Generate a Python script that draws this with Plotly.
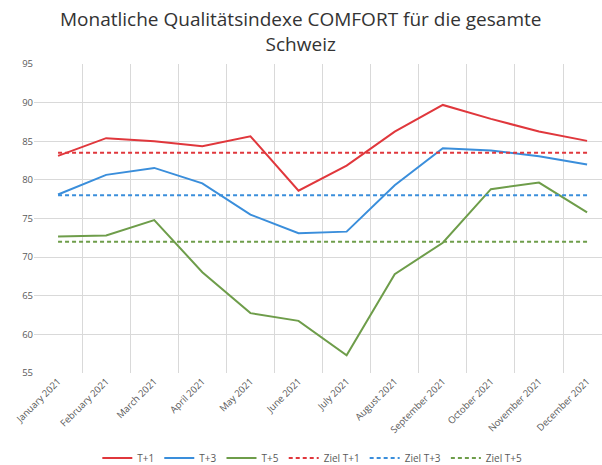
import plotly.graph_objects as go

months = ["January 2021", "February 2021", "March 2021", "April 2021", "May 2021", "June 2021",
          "July 2021", "August 2021", "September 2021", "October 2021", "November 2021", "December 2021"]
t1 = [83.1, 85.4, 85.0, 84.35, 85.65, 78.6, 81.85, 86.25, 89.7, 87.9, 86.25, 85.05]
t3 = [78.1, 80.65, 81.55, 79.55, 75.5, 73.1, 73.3, 79.3, 84.1, 83.8, 83.05, 82.0]
t5 = [72.66, 72.8, 74.8, 68.05, 62.75, 61.75, 57.3, 67.8, 71.86, 78.8, 79.65, 75.8]
ziel_t1 = [83.5] * 12
ziel_t3 = [78.0] * 12
ziel_t5 = [72.0] * 12

title_text = "Monatliche Qualitätsindexe COMFORT für die gesamte<br>Schweiz"

RED = "#E0373C"
BLUE = "#3A8EDB"
GREEN = "#6E9D4A"

fig = go.Figure()
series = [
    ("T+1", t1, RED, "solid"),
    ("T+3", t3, BLUE, "solid"),
    ("T+5", t5, GREEN, "solid"),
    ("Ziel T+1", ziel_t1, RED, "dash"),
    ("Ziel T+3", ziel_t3, BLUE, "dash"),
    ("Ziel T+5", ziel_t5, GREEN, "dash"),
]
for name, vals, col, dash in series:
    fig.add_trace(go.Scatter(
        x=months, y=vals, name=name, mode="lines",
        line=dict(color=col, width=2, dash="solid" if dash == "solid" else "4px,3px"),
    ))

fig.update_layout(
    width=602, height=465,
    margin=dict(l=34, r=0, t=64, b=92, autoexpand=False),
    paper_bgcolor="white", plot_bgcolor="white",
    font=dict(family="Open Sans, Segoe UI, sans-serif", color="#595959"),
    showlegend=True,
    legend=dict(
        orientation="h", x=0.49, xanchor="center", y=-0.275, yanchor="middle",
        font=dict(size=10, color="#595959"), itemwidth=30, tracegroupgap=0,
        bgcolor="rgba(0,0,0,0)",
    ),
    annotations=[dict(
        text=title_text, xref="paper", yref="paper",
        x=0.47, xanchor="center", y=1.195, yanchor="top",
        showarrow=False, align="center",
        font=dict(size=19, color="#333333", family="Open Sans, sans-serif"),
    )],
)
fig.update_xaxes(
    type="category", range=[-0.5, 11.31], tickson="boundaries",
    showgrid=True, gridcolor="#D9D9D9", gridwidth=1,
    showline=False, ticks="", tickangle=-45,
    tickfont=dict(size=9.5, color="#595959"),
)
fig.update_yaxes(
    range=[55, 95], dtick=5, showgrid=True, gridcolor="#D9D9D9", gridwidth=1,
    zeroline=False, showline=False, ticks="",
    tickfont=dict(size=9.5, color="#595959"),
)

fig.write_html(
    "out.html",
    config={"displayModeBar": False},
    post_script="document.body.style.margin='0';document.body.style.overflow='hidden';",
)
